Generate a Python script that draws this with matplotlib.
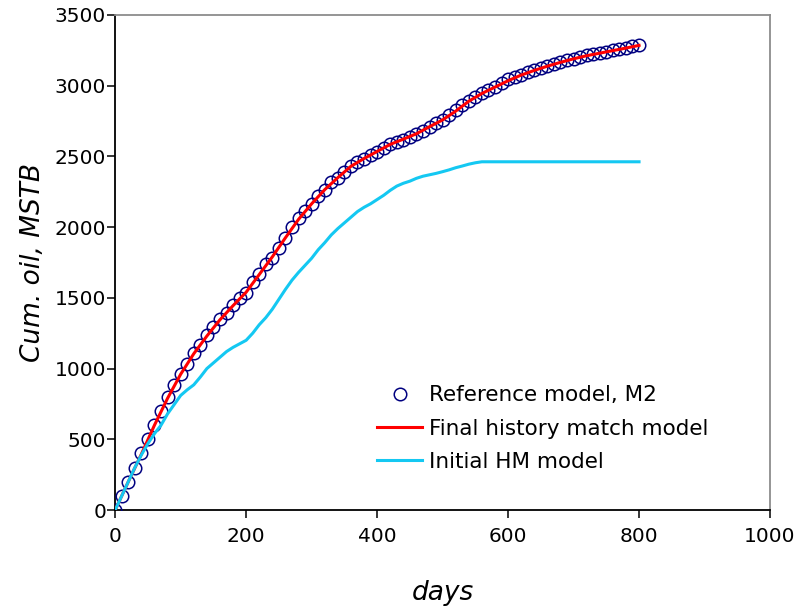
import numpy as np
import matplotlib
matplotlib.use("Agg")
import matplotlib.pyplot as plt

# Reference model M2 (circles), cumulative oil in MSTB
ref_days = np.arange(0, 801, 10)
ref_oil = [0, 100, 200, 300, 400, 500, 600, 700, 800, 885,
           960, 1035, 1110, 1170, 1235, 1295, 1350, 1395, 1450, 1500,
           1537, 1610, 1672, 1736, 1783, 1855, 1925, 2000, 2062, 2113,
           2160, 2220, 2265, 2318, 2348, 2390, 2430, 2460, 2485, 2508,
           2530, 2560, 2585, 2605, 2618, 2640, 2655, 2683, 2710, 2734,
           2760, 2790, 2825, 2865, 2893, 2920, 2950, 2968, 2990, 3020,
           3050, 3060, 3078, 3095, 3111, 3125, 3140, 3155, 3168, 3182,
           3192, 3205, 3215, 3222, 3230, 3240, 3250, 3260, 3270, 3282,
           3290]

# Final history match model (red)
final_days = [0, 20, 40, 60, 80, 100, 120, 140, 160, 180, 200, 220, 240,
              260, 280, 300, 320, 340, 360, 380, 400, 420, 440, 460, 480,
              500, 520, 540, 560, 580, 600, 620, 640, 660, 680, 700, 720,
              740, 760, 780, 800]
final_oil = [0, 200, 395, 600, 790, 960, 1105, 1230, 1345, 1445, 1540,
             1665, 1790, 1925, 2055, 2165, 2265, 2350, 2430, 2485, 2535,
             2585, 2622, 2660, 2710, 2758, 2820, 2890, 2945, 2990, 3035,
             3075, 3108, 3138, 3165, 3190, 3212, 3230, 3248, 3266, 3285]

# Initial HM model (cyan)
init_days = [0, 10, 20, 30, 40, 50, 60, 70, 80, 90, 100, 110, 120, 130,
             140, 150, 160, 170, 180, 190, 200, 210, 220, 230, 240, 250,
             260, 270, 280, 290, 300, 310, 320, 330, 340, 350, 360, 370,
             380, 390, 400, 410, 420, 430, 440, 450, 460, 470, 480, 490,
             500, 510, 520, 530, 540, 550, 560, 800]
init_oil = [0, 100, 200, 300, 390, 470, 540, 600, 680, 745, 810, 850,
            885, 940, 1000, 1040, 1080, 1120, 1150, 1175, 1200, 1250,
            1310, 1360, 1420, 1490, 1560, 1625, 1680, 1730, 1780, 1840,
            1890, 1945, 1990, 2030, 2070, 2110, 2140, 2165, 2195, 2225,
            2260, 2290, 2310, 2325, 2345, 2360, 2370, 2380, 2392, 2405,
            2420, 2432, 2445, 2455, 2462, 2462]

plt.rcParams['font.family'] = ['DejaVu Sans']

fig = plt.figure(figsize=(8, 6.11), dpi=100)
ax = fig.add_axes([0.144, 0.1653, 0.8185, 0.8102])

ax.plot(ref_days, ref_oil, linestyle='none', marker='o', markersize=9,
        markerfacecolor='none', markeredgecolor='#000080',
        markeredgewidth=1.1, label='Reference model, M2', zorder=3)
ax.plot(final_days, final_oil, color='#FF0000', linewidth=2.2,
        label='Final history match model', zorder=4)
ax.plot(init_days, init_oil, color='#14C8F2', linewidth=2.2,
        label='Initial HM model', zorder=5)

ax.set_xlim(0, 1000)
ax.set_ylim(0, 3500)
ax.set_xticks(np.arange(0, 1001, 200))
ax.set_yticks(np.arange(0, 3501, 500))

ax.tick_params(axis='both', direction='out', length=5.5, width=1.1,
               labelsize=14.5)
ax.tick_params(axis='y', pad=1)
ax.tick_params(axis='x', pad=7)

for side in ['left', 'bottom']:
    ax.spines[side].set_color('black')
    ax.spines[side].set_linewidth(1.3)
for side in ['top', 'right']:
    ax.spines[side].set_color('#8c8c8c')
    ax.spines[side].set_linewidth(1.3)

ax.set_xlabel('days', fontsize=19, fontstyle='italic', labelpad=24)
ax.set_ylabel('Cum. oil, MSTB', fontsize=19, fontstyle='italic', labelpad=6)

ax.legend(loc='upper left', bbox_to_anchor=(0.4, 0.252), frameon=False,
          fontsize=15.5, handlelength=2.1, handletextpad=0.3,
          labelspacing=0.62, borderpad=0, borderaxespad=0)

fig.savefig('out.png', dpi=100)
